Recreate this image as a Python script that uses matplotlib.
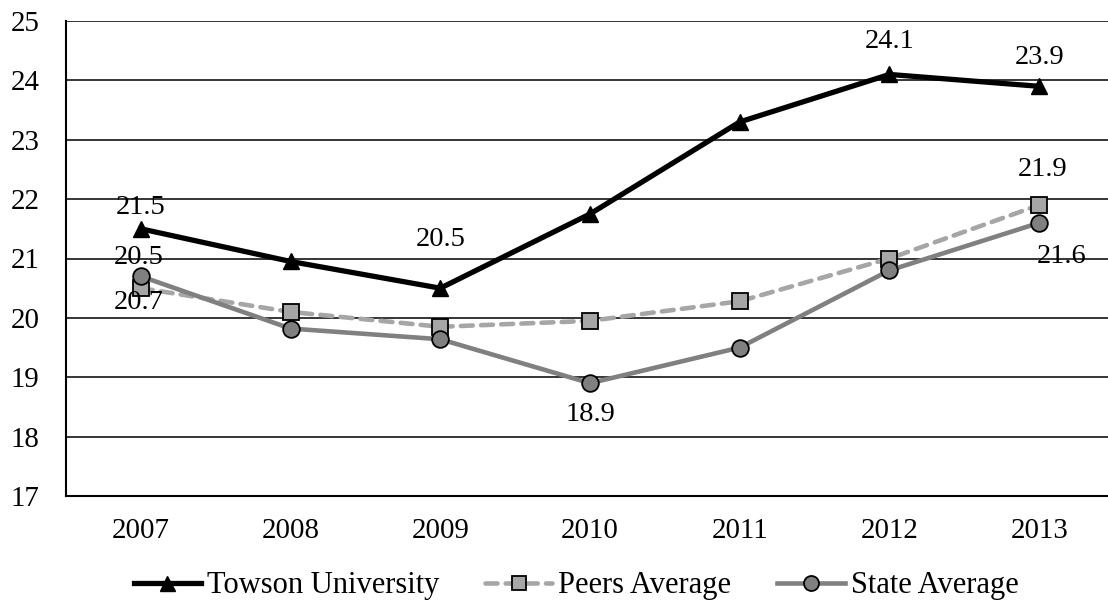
import numpy as np
import matplotlib.pyplot as plt

# average ACT composite by year
years = ['2007', '2008', '2009', '2010', '2011', '2012', '2013']
towson = [21.5, 20.95, 20.5, 21.75, 23.3, 24.1, 23.9]
peers = [20.5, 20.1, 19.85, 19.95, 20.28, 21.0, 21.9]
state = [20.7, 19.82, 19.64, 18.9, 19.5, 20.8, 21.6]

# which points get a value label, and where (pixel offsets from the marker)
towson_labels = {0: (0, 21), 2: (0, 49), 5: (0, 33), 6: (0, 29)}
peers_labels = {0: (-2, 31), 6: (3, 36)}
state_labels = {0: (-2, -26), 3: (0, -31), 6: (22, -34)}

plt.rcParams['font.family'] = ['Liberation Serif', 'DejaVu Serif']

fig = plt.figure(figsize=(11.08, 6.02), dpi=100)
ax = fig.add_axes([66/1108, 1-496/602, 1048/1108, 475/602])

x = np.arange(len(years))

ax.plot(x, towson, color='black', lw=3.8, marker='^', ms=12,
        mfc='black', mec='black', label='Towson University', zorder=3)
ax.plot(x, peers, color='#A6A6A6', lw=3.3, ls=(0, (2.6, 1.8)),
        dash_capstyle='round', marker='s', ms=11, mfc='#A6A6A6',
        mec='black', mew=1.3, label='Peers Average', zorder=4)
ax.plot(x, state, color='#808080', lw=3.3, marker='o', ms=12,
        mfc='#808080', mec='black', mew=1.3, label='State Average', zorder=5)

def add_labels(vals, labels):
    for i, (dx, dy) in labels.items():
        ax.annotate(f'{vals[i]:.1f}', (x[i], vals[i]), xytext=(dx, dy),
                    textcoords='offset pixels', ha='center', va='center',
                    fontsize=20.5, zorder=6)

add_labels(towson, towson_labels)
add_labels(peers, peers_labels)
add_labels(state, state_labels)

ax.set_xlim(-0.5, 6.5)
ax.set_ylim(17, 25)
ax.set_xticks(x)
ax.set_xticklabels(years)
ax.set_yticks(np.arange(17, 26, 1))
ax.tick_params(axis='both', length=0, labelsize=20.8)
ax.tick_params(axis='x', pad=16)
ax.tick_params(axis='y', pad=19)

ax.grid(axis='y', color='black', lw=1.1, zorder=0)
for side in ['top', 'right']:
    ax.spines[side].set_visible(False)
for side in ['left', 'bottom']:
    ax.spines[side].set_linewidth(1.5)

fig.legend(loc='center', bbox_to_anchor=(576/1108, 1-586/602), ncol=3,
           frameon=False, fontsize=22, handlelength=2.2, handletextpad=0.2,
           columnspacing=1.5, markerscale=0.9)

fig.savefig('out.png', dpi=100)
